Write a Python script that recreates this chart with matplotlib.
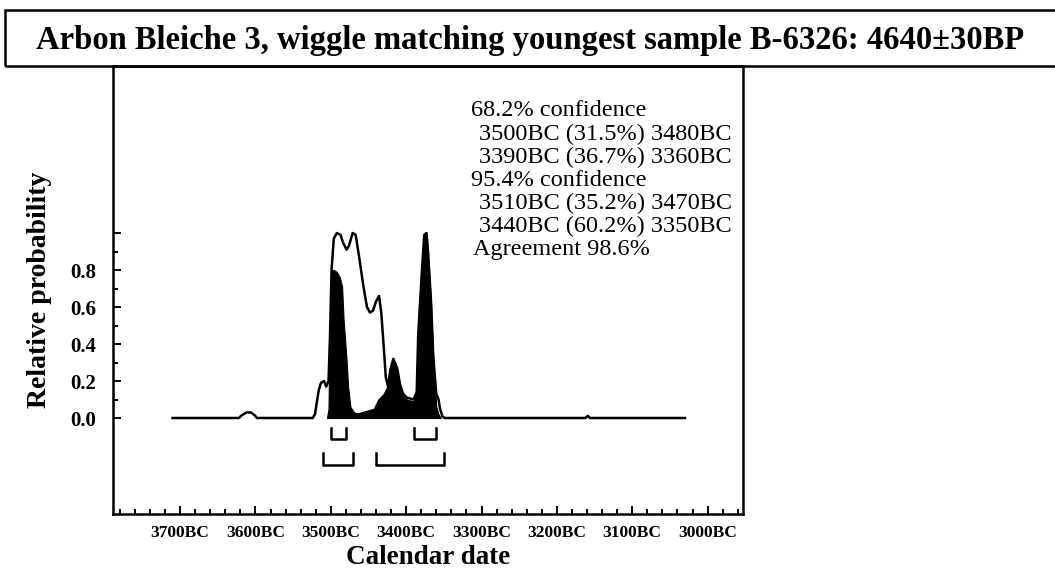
import matplotlib
matplotlib.use("Agg")
import matplotlib.pyplot as plt
from matplotlib.patches import Rectangle
from matplotlib.ticker import MultipleLocator, FuncFormatter, FixedLocator

plt.rcParams['font.family'] = ['Liberation Serif', 'DejaVu Serif']

# outline curve (single sample likelihood), years BC -> relative probability
outline_bc = [3710, 3622, 3618, 3612, 3606, 3601, 3598, 3524, 3521, 3516, 3513, 3509,
              3506, 3503, 3501, 3499, 3496, 3492, 3487, 3484, 3479, 3476, 3471, 3467,
              3462, 3457, 3452, 3448, 3444, 3440, 3436, 3433, 3430, 3427, 3424, 3421,
              3417, 3412, 3408, 3404, 3399, 3390, 3386, 3384, 3379, 3376, 3373, 3371,
              3367, 3364, 3360, 3357, 3355, 3352, 3349, 3162, 3159, 3156, 3030]
outline_p = [0, 0, 0.015, 0.03, 0.03, 0.015, 0, 0, 0.02, 0.15, 0.19, 0.2,
             0.17, 0.2, 0.45, 0.8, 0.97, 1.0, 0.99, 0.95, 0.91, 0.93, 1.0, 0.99,
             0.86, 0.72, 0.6, 0.57, 0.58, 0.63, 0.66, 0.57, 0.4, 0.22, 0.17, 0.26,
             0.32, 0.27, 0.18, 0.13, 0.11, 0.1, 0.14, 0.45, 0.8, 0.99, 1.0, 0.9,
             0.63, 0.33, 0.13, 0.1, 0.05, 0.01, 0, 0, 0.012, 0, 0]

# posterior (black)
post_bc = [3505, 3503, 3502, 3500, 3499, 3496, 3492, 3488, 3485, 3483, 3479, 3477,
           3474, 3470, 3466, 3460, 3452, 3443, 3437, 3430, 3425, 3421, 3417, 3412,
           3408, 3404, 3399, 3390, 3386, 3384, 3379, 3376, 3373, 3371, 3367, 3364,
           3360, 3357, 3354]
post_p = [0, 0.05, 0.37, 0.65, 0.8, 0.8, 0.79, 0.76, 0.71, 0.53, 0.31, 0.17,
          0.06, 0.035, 0.025, 0.03, 0.04, 0.05, 0.1, 0.13, 0.17, 0.26, 0.32, 0.26,
          0.17, 0.12, 0.1, 0.09, 0.13, 0.44, 0.8, 0.99, 1.0, 0.89, 0.62, 0.31,
          0.06, 0.02, 0]

# highest probability ranges: (from, percent, to)
ranges_68 = [(3500, 31.5, 3480), (3390, 36.7, 3360)]
ranges_95 = [(3510, 35.2, 3470), (3440, 60.2, 3350)]
agreement = 98.6
title = "Arbon Bleiche 3, wiggle matching youngest sample B-6326: 4640\u00b130BP"

W, H = 1055, 573
fig = plt.figure(figsize=(W / 100, H / 100), dpi=100)
ax = fig.add_axes([113 / W, 1 - 514 / H, 630 / W, 448 / H])

ax.fill_between(post_bc, post_p, 0, color='black', lw=0.8)
ax.plot(outline_bc, outline_p, color='black', lw=1.8)

# range brackets under the curve
for rngs, top, bot in [(ranges_68, -0.056, -0.115), (ranges_95, -0.19, -0.254)]:
    for a, pct, b in rngs:
        ax.plot([a, a, b, b], [top, bot, bot, top], color='black', lw=1.8)

ax.set_xlim(3789, 2953)
ax.set_ylim(-0.519, 1.903)

ax.xaxis.set_major_locator(MultipleLocator(100))
ax.xaxis.set_minor_locator(MultipleLocator(20))
ax.xaxis.set_major_formatter(FuncFormatter(lambda v, p: f"{int(round(v))}BC"))
ax.set_yticks([0, 0.2, 0.4, 0.6, 0.8, 1.0])
ax.set_yticklabels(['0.0', '0.2', '0.4', '0.6', '0.8', ''])
ax.yaxis.set_minor_locator(FixedLocator([0.1, 0.3, 0.5, 0.7, 0.9]))
ax.tick_params(which='both', direction='in', width=1.4, top=False, right=False)
ax.tick_params(which='major', length=6)
ax.tick_params(which='minor', length=3.5)
ax.tick_params(axis='x', labelsize=12.5, pad=8)
ax.tick_params(axis='y', labelsize=15, pad=12)
for lab in ax.get_xticklabels() + ax.get_yticklabels():
    lab.set_fontweight('bold')
for s in ax.spines.values():
    s.set_linewidth(1.8)

fig.text(428 / W, 1 - 558 / H, "Calendar date", fontsize=19.5, fontweight='bold',
         ha='center', va='center')
fig.text(40 / W, 1 - 290 / H, "Relative probability", fontsize=20, fontweight='bold',
         ha='center', va='center', rotation=90)

# legend-like text block
lines = [("68.2% confidence", 471, 111)]
yy = 134
for a, pct, b in ranges_68:
    lines.append((f"{a}BC ({pct}%) {b}BC", 479, yy))
    yy += 23
lines.append(("95.4% confidence", 471, yy))
yy += 23
for a, pct, b in ranges_95:
    lines.append((f"{a}BC ({pct}%) {b}BC", 479, yy))
    yy += 23
lines.append((f"Agreement {agreement}%", 473, yy))
for txt, px, py in lines:
    fig.text(px / W, 1 - py / H, txt, fontsize=17.5, ha='left', va='center')

# title box
fig.patches.append(Rectangle((5 / W, 1 - 66 / H), 1.0, 56 / H, transform=fig.transFigure,
                             fill=False, edgecolor='black', lw=1.8))
fig.text(530 / W, 1 - 40 / H, title, fontsize=23.5, fontweight='bold',
         ha='center', va='center')

fig.savefig("out.png", dpi=100)
